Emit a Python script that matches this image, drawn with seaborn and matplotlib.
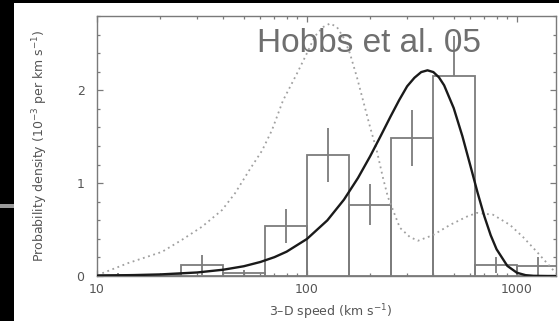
import numpy as np
import pandas as pd
import matplotlib
matplotlib.use("Agg")
import matplotlib.pyplot as plt
from matplotlib.patches import Rectangle
from matplotlib.ticker import FixedLocator, LogLocator, NullFormatter, FixedFormatter, MultipleLocator
import seaborn as sns

# Histogram of pulsar 3-D speeds (0.2 dex bins)
bin_edges = [10.0, 15.85, 25.12, 39.81, 63.10, 100.0, 158.5, 251.2, 398.1, 631.0, 1000.0, 1585.0]
bin_heights = [0.01, 0.01, 0.12, 0.03, 0.54, 1.30, 0.77, 1.49, 2.15, 0.12, 0.11]
err_low = [0.02, 0.01, 0.11, 0.03, 0.18, 0.29, 0.22, 0.30, 0.00, 0.09, 0.10]
err_high = [0.02, 0.01, 0.11, 0.03, 0.18, 0.29, 0.22, 0.30, 0.43, 0.09, 0.10]

# Maxwellian fit (solid)
fit_speed = [10, 15, 20, 30, 40, 50, 60, 70, 80, 100, 125, 150, 175, 200, 225, 250, 275,
             300, 325, 350, 375, 400, 425, 450, 500, 550, 600, 650, 700, 750, 800, 900,
             1000, 1100, 1200, 1400, 1550]
fit_density = [0.004, 0.010, 0.017, 0.038, 0.068, 0.105, 0.151, 0.203, 0.262, 0.399, 0.599,
               0.822, 1.056, 1.290, 1.513, 1.717, 1.895, 2.043, 2.135, 2.196, 2.215, 2.196,
               2.140, 2.054, 1.808, 1.505, 1.189, 0.895, 0.641, 0.439, 0.288, 0.109,
               0.035, 0.009, 0.002, 0.000, 0.000]

# Earlier model distribution (dotted)
old_speed = [10.6, 14.1, 20.4, 25.4, 31.6, 39.4, 45.4, 53.5, 61.1, 68.1, 76.9, 89.6, 100,
             109, 119, 129, 139, 150, 160, 173, 185, 200, 215, 230, 243, 277, 309, 338,
             398, 480, 578, 645, 769, 927, 1069, 1245, 1389, 1535]
old_density = [0.03, 0.14, 0.26, 0.39, 0.53, 0.71, 0.89, 1.15, 1.35, 1.57, 1.89, 2.18, 2.40,
               2.58, 2.68, 2.72, 2.68, 2.56, 2.40, 2.14, 1.89, 1.60, 1.35, 1.06, 0.85, 0.52,
               0.42, 0.38, 0.44, 0.55, 0.64, 0.68, 0.66, 0.55, 0.42, 0.26, 0.14, 0.03]

x_ticks = [10, 100, 1000]
x_ticklabels = ["10", "100", "1000"]
y_ticks = [0, 1, 2]

sns.set_style("white")
plt.rcParams["font.family"] = ["DejaVu Sans"]

W, H = 559, 321
fig = plt.figure(figsize=(W / 100, H / 100), dpi=100)
fig.patch.set_facecolor("white")

# black frame strips and the small grey bar on the left edge
fig.patches.append(Rectangle((0, 0), 14 / W, 1, transform=fig.transFigure,
                             facecolor="black", edgecolor="none", zorder=0))
fig.patches.append(Rectangle((0, 1 - 3 / H), 1, 3 / H, transform=fig.transFigure,
                             facecolor="black", edgecolor="none", zorder=0))
fig.patches.append(Rectangle((0, 1 - 208 / H), 14 / W, 4 / H, transform=fig.transFigure,
                             facecolor="#9a9a9a", edgecolor="none", zorder=1))

ax = fig.add_axes([97 / W, 1 - 276 / H, (556 - 97) / W, (276 - 16) / H])
ax.set_facecolor("white")
ax.set_xscale("log")
ax.set_xlim(10, 1535)
ax.set_ylim(0, 2.8)

edges = np.array(bin_edges)
heights = np.array(bin_heights)
centers = np.sqrt(edges[:-1] * edges[1:])

ax.bar(edges[:-1], heights, width=np.diff(edges), align="edge", fill=False,
       edgecolor="#7c7c7c", linewidth=1.3, zorder=2)
ax.errorbar(centers, heights, yerr=[err_low, err_high], fmt="none",
            ecolor="#7c7c7c", elinewidth=1.3, capsize=0, zorder=2)

sns.lineplot(x=old_speed, y=old_density, ax=ax, color="#a0a0a0", linewidth=1.3,
             linestyle=(0, (1, 2)), sort=False, estimator=None, zorder=3)
sns.lineplot(x=fit_speed, y=fit_density, ax=ax, color="#1a1a1a", linewidth=1.7,
             sort=False, estimator=None, zorder=4)

# axes styling
for side in ["left", "right", "top", "bottom"]:
    ax.spines[side].set_visible(True)
    ax.spines[side].set_color("#7a7a7a")
    ax.spines[side].set_linewidth(1.0)

ax.xaxis.set_major_locator(FixedLocator(x_ticks))
ax.xaxis.set_major_formatter(FixedFormatter(x_ticklabels))
ax.xaxis.set_minor_locator(LogLocator(base=10, subs=np.arange(2, 10)))
ax.xaxis.set_minor_formatter(NullFormatter())
ax.yaxis.set_major_locator(FixedLocator(y_ticks))
ax.yaxis.set_minor_locator(MultipleLocator(0.2))

ax.tick_params(which="both", direction="in", top=True, right=True, bottom=True, left=True,
               color="#7a7a7a", labelcolor="#555555", labelsize=9, width=0.9)
ax.tick_params(which="major", length=4.5)
ax.tick_params(which="minor", length=2.5)
ax.tick_params(axis="y", pad=9)
ax.tick_params(axis="x", pad=5)

ax.set_xlabel("3\u2013D speed (km s$^{-1}$)", fontsize=9, color="#555555")
ax.set_ylabel("Probability density (10$^{-3}$ per km s$^{-1}$)", fontsize=9, color="#555555")
ax.xaxis.set_label_coords(0.51, -0.138)
ax.xaxis.label.set_va("center")
ax.yaxis.set_label_coords(-0.124, 0.5)
ax.yaxis.label.set_va("center")

fig.text(257 / W, 1 - 52 / H, "Hobbs et al. 05", fontsize=24, color="#6f6f6f",
         family=["Liberation Sans", "DejaVu Sans"], ha="left", va="baseline", zorder=10)

fig.savefig("out.png", dpi=100, facecolor=fig.get_facecolor())
